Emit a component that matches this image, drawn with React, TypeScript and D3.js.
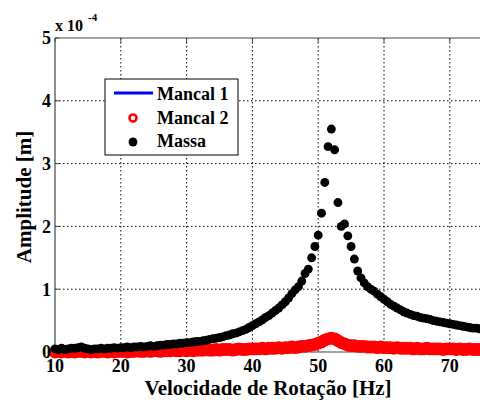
import React from "react";
import * as d3 from "d3";

const freq = [
  10, 10.5, 11, 11.5, 12, 12.5, 13, 13.5, 14, 14.5, 15, 15.5, 16, 16.5, 17, 17.5, 18, 18.5, 19, 19.5, 20,
  20.5, 21, 21.5, 22, 22.5, 23, 23.5, 24, 24.5, 25, 25.5, 26, 26.5, 27, 27.5, 28, 28.5, 29, 29.5, 30,
  30.5, 31, 31.5, 32, 32.5, 33, 33.5, 34, 34.5, 35, 35.5, 36, 36.5, 37, 37.5, 38, 38.5, 39, 39.5, 40,
  40.5, 41, 41.5, 42, 42.5, 43, 43.5, 44, 44.5, 45,
  45.5, 46, 46.5, 47, 47.5, 48, 48.5, 49, 49.5, 50,
  50.5, 51, 51.5, 52, 52.5, 53, 53.5, 54, 54.5, 55,
  55.5, 56, 56.5, 57, 57.5, 58, 58.5, 59, 59.5, 60,
  60.5, 61, 61.5, 62, 62.5, 63, 63.5, 64, 64.5, 65, 65.5, 66, 66.5, 67, 67.5, 68, 68.5, 69, 69.5, 70,
  70.5, 71, 71.5, 72, 72.5, 73, 73.5, 74, 74.5, 75, 75.5, 76, 76.5, 77, 77.5, 78, 78.5, 79, 79.5, 80,
];

// Massa (x 1e-4 m)
const massa = [
  0.05, 0.04, 0.06, 0.04, 0.05, 0.06, 0.06, 0.07, 0.08, 0.06, 0.05, 0.04, 0.05, 0.05, 0.06, 0.05, 0.06, 0.06, 0.07, 0.06, 0.07,
  0.07, 0.08, 0.07, 0.08, 0.08, 0.09, 0.08, 0.09, 0.1, 0.09, 0.1, 0.11, 0.11, 0.12, 0.12, 0.13, 0.13, 0.14, 0.14, 0.15,
  0.15, 0.16, 0.17, 0.17, 0.18, 0.19, 0.2, 0.21, 0.22, 0.23, 0.24, 0.26, 0.27, 0.29, 0.3, 0.32, 0.34, 0.36, 0.39, 0.42,
  0.45, 0.48, 0.51, 0.55, 0.58, 0.62, 0.66, 0.7, 0.75, 0.8,
  0.86, 0.93, 0.99, 1.04, 1.13, 1.25, 1.32, 1.5, 1.68, 1.86,
  2.21, 2.7, 3.27, 3.55, 3.22, 2.38, 2.0, 2.04, 1.85, 1.68,
  1.48, 1.29, 1.18, 1.1, 1.04, 1.0, 0.97, 0.92, 0.88, 0.84,
  0.8, 0.76, 0.73, 0.7, 0.67, 0.64, 0.62, 0.6, 0.58, 0.57, 0.55, 0.54, 0.53, 0.52, 0.5, 0.49, 0.48, 0.47, 0.46, 0.45,
  0.44, 0.43, 0.42, 0.41, 0.4, 0.39, 0.38, 0.38, 0.37, 0.37, 0.36, 0.36, 0.35, 0.35, 0.34, 0.34, 0.34, 0.33, 0.33, 0.33,
];

// Mancal 2 (x 1e-4 m)
const mancal2 = [
  0.0, 0.01, 0.0, 0.01, 0.0, 0.01, 0.0, 0.01, 0.01, 0.0, 0.01, 0.0, 0.01, 0.0, 0.01, 0.01, 0.0, 0.01, 0.0, 0.01, 0.01,
  0.01, 0.0, 0.01, 0.01, 0.02, 0.01, 0.01, 0.02, 0.01, 0.02, 0.02, 0.01, 0.02, 0.02, 0.02, 0.03, 0.02, 0.02, 0.03, 0.02,
  0.03, 0.02, 0.03, 0.03, 0.03, 0.04, 0.03, 0.03, 0.04, 0.03, 0.04, 0.04, 0.04, 0.03, 0.04, 0.05, 0.04, 0.04, 0.05, 0.05,
  0.05, 0.05, 0.06, 0.05, 0.06, 0.06, 0.06, 0.07, 0.06, 0.07,
  0.07, 0.08, 0.07, 0.08, 0.09, 0.09, 0.1, 0.11, 0.12, 0.14,
  0.16, 0.19, 0.21, 0.22, 0.21, 0.18, 0.15, 0.13, 0.11, 0.1,
  0.1, 0.09, 0.09, 0.09, 0.08, 0.08, 0.08, 0.07, 0.08, 0.07,
  0.07, 0.07, 0.06, 0.07, 0.06, 0.06, 0.06, 0.06, 0.05, 0.06, 0.05, 0.05, 0.06, 0.05, 0.05, 0.05, 0.05, 0.04, 0.05, 0.05,
  0.05, 0.04, 0.05, 0.04, 0.04, 0.05, 0.04, 0.04, 0.04, 0.04, 0.04, 0.03, 0.04, 0.04, 0.03, 0.04, 0.03, 0.03, 0.04, 0.03,
];

// Mancal 1 (x 1e-4 m), hidden under Mancal 2
const freq1 = [10, 15, 20, 25, 30, 35, 40, 45, 48, 50, 51, 52, 53, 54, 56, 60, 65, 70, 75, 80];
const mancal1 = [0.01, 0.01, 0.01, 0.02, 0.02, 0.03, 0.04, 0.05, 0.07, 0.1, 0.14, 0.17, 0.12, 0.09, 0.08, 0.07, 0.05, 0.04, 0.04, 0.03];

const xTicks = [10, 20, 30, 40, 50, 60, 70, 80];
const xTickLabels = ["10", "20", "30", "40", "50", "60", "70"];
const yTicks = [0, 1, 2, 3, 4, 5];
const legendLabels = ["Mancal 1", "Mancal 2", "Massa"];

const W = 480;
const H = 402;
const TS: React.CSSProperties = { fontFamily: '"Liberation Serif"', fontWeight: "bold" };

export default function App() {
  const left = 55, top = 38, bottom = 352;
  const x = d3.scaleLinear().domain([10, 80]).range([left, left + 6.58 * 70]);
  const y = d3.scaleLinear().domain([0, 5]).range([bottom, top]);
  const right = x(80);

  const line = d3
    .line<number>()
    .x((_, i) => x(freq1[i]))
    .y((d) => y(d));

  const dot = d3.symbol().type(d3.symbolCircle).size(62)();

  return (
    <svg width={W} height={H} style={{ position: "absolute", left: 0, top: 0, background: "#fff" }}>
      <style>{`text { font-family: "Liberation Serif", serif; font-weight: bold; }`}</style>
      <rect x={0} y={0} width={W} height={H} fill="#fff" />
      {/* grid */}
      {xTicks.slice(1, -1).map((t) => (
        <line key={"gx" + t} x1={x(t)} x2={x(t)} y1={top} y2={bottom} stroke="#000" strokeWidth={1} strokeDasharray="1.5,2.5" />
      ))}
      {yTicks.slice(1, -1).map((t) => (
        <line key={"gy" + t} x1={left} x2={right} y1={y(t)} y2={y(t)} stroke="#000" strokeWidth={1} strokeDasharray="1.5,2.5" />
      ))}
      {/* axes box */}
      <line x1={left} x2={right} y1={top} y2={top} stroke="#444" strokeWidth={1.2} />
      <line x1={left} x2={left} y1={top} y2={bottom} stroke="#444" strokeWidth={1.2} />
      <line x1={left} x2={right} y1={bottom} y2={bottom} stroke="#444" strokeWidth={1.2} />
      {xTicks.map((t) => (
        <line key={"tx" + t} x1={x(t)} x2={x(t)} y1={top} y2={top + 4} stroke="#444" />
      ))}
      {yTicks.map((t) => (
        <line key={"ty" + t} x1={left} x2={left + 4} y1={y(t)} y2={y(t)} stroke="#444" />
      ))}

      {/* Mancal 1 line */}
      <path d={line(mancal1) || ""} fill="none" stroke="#0000ff" strokeWidth={3} />
      {/* Mancal 2 circles */}
      {mancal2.map((v, i) => (
        <circle key={"m2" + i} cx={x(freq[i])} cy={y(v)} r={4.8} fill="none" stroke="#ff0000" strokeWidth={3.2} />
      ))}
      {/* Massa dots */}
      {massa.map((v, i) => (
        <path key={"ms" + i} d={dot} transform={`translate(${x(freq[i])},${y(v)})`} fill="#000" />
      ))}

      {/* tick labels */}
      {yTicks.map((t) => (
        <text key={"ly" + t} x={left - 4} y={y(t)} dy="0.35em" textAnchor="end" fontSize={18} style={TS}>
          {t}
        </text>
      ))}
      {xTickLabels.map((t, i) => (
        <text key={"lx" + t} x={x(xTicks[i])} y={bottom + 20} textAnchor="middle" fontSize={18} style={TS}>
          {t}
        </text>
      ))}
      <text x={left} y={31} fontSize={16} style={TS}>
        x 10
      </text>
      <text x={left + 33} y={21} fontSize={11} style={TS}>
        -4
      </text>

      {/* axis titles */}
      <text x={268} y={395} textAnchor="middle" fontSize={21} style={TS}>
        Velocidade de Rotação [Hz]
      </text>
      <text transform={`translate(31,197) rotate(-90)`} textAnchor="middle" fontSize={21} style={TS}>
        Amplitude [m]
      </text>

      {/* legend */}
      <rect x={105} y={79} width={133} height={76} fill="#fff" stroke="#000" strokeWidth={1} />
      <line x1={114} x2={153} y1={93} y2={93} stroke="#0000ff" strokeWidth={3} />
      <circle cx={133} cy={118} r={3.5} fill="none" stroke="#ff0000" strokeWidth={2.6} />
      <path d={dot} transform="translate(133,142)" fill="#000" />
      {legendLabels.map((l, i) => (
        <text key={l} x={157} y={100 + i * 23.5} fontSize={18} style={TS}>
          {l}
        </text>
      ))}
    </svg>
  );
}
